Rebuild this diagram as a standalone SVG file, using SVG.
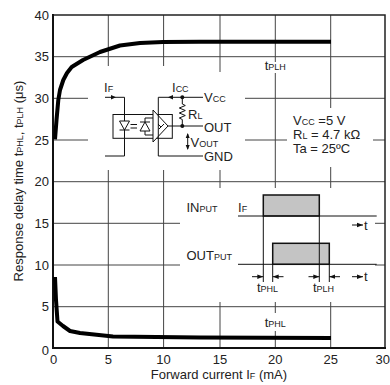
<svg xmlns="http://www.w3.org/2000/svg" width="390" height="385" viewBox="0 0 390 385">
<style>
text{font-family:"Liberation Sans",Arial,sans-serif;fill:#222}
.tk{font-size:13px}
.lb{font-size:13px}
.sm{font-size:9px}
.grid{stroke:#444;stroke-width:1;fill:none}
.ln{stroke:#111;stroke-width:1;fill:none}
.curve{stroke:#000;stroke-width:4;fill:none;stroke-linejoin:round;stroke-linecap:butt}
.box{fill:#c4c4c4;stroke:#111;stroke-width:1.5}
</style>
<defs>
<marker id="ah" viewBox="0 0 6 6" refX="6" refY="3" markerWidth="6" markerHeight="6" orient="auto" markerUnits="userSpaceOnUse"><path d="M0,0.8 L6,3 L0,5.2Z" fill="#111"/></marker>
</defs>
<rect width="390" height="385" fill="#fff"/>
<g id="grid" class="grid">
<path d="M53,56.7H385M53,181.7H385M53,306.7H385"/>
<path d="M53,98.3H88M245,98.3H385"/>
<path d="M53,140H88M245,140H287M373,140H385"/>
<path d="M53,223.3H180M375,223.3H385"/>
<path d="M53,265H180M375,265H385"/>
<path d="M108.3,15V66M108.3,170V348"/>
<path d="M163.6,15V66M163.6,170V348"/>
<path d="M220,15V72M220,170V188M220,302V348"/>
<path d="M275.3,15V62M275.3,73V188M275.3,302V313M275.3,331V348"/>
<path d="M330.7,15V108M330.7,167V188M330.7,302V348"/>
</g>
<g id="axes">
<path d="M53,15H385V348" stroke="#222" stroke-width="1.5" fill="none"/>
<path d="M53,14V348H386" stroke="#111" stroke-width="2" fill="none"/>
</g>
<g id="ticks" class="tk">
<g text-anchor="end">
<text x="49" y="19.5">40</text>
<text x="49" y="61.2">35</text>
<text x="49" y="102.8">30</text>
<text x="49" y="144.5">25</text>
<text x="49" y="186.2">20</text>
<text x="49" y="227.8">15</text>
<text x="49" y="269.5">10</text>
<text x="49" y="311.2">5</text>
<text x="49" y="355">0</text>
</g>
<g text-anchor="middle">
<text x="53.5" y="364">0</text>
<text x="108.3" y="364">5</text>
<text x="163.6" y="364">10</text>
<text x="220" y="364">15</text>
<text x="275.3" y="364">20</text>
<text x="330.7" y="364">25</text>
</g>
<text x="390" y="364" text-anchor="end">30</text>
</g>
<g id="axis-titles" class="lb">
<text x="219" y="379" text-anchor="middle">Forward current I<tspan class="sm">F</tspan> (mA)</text>
<text transform="translate(23,181) rotate(-90)" text-anchor="middle">Response delay time t<tspan class="sm">PHL</tspan>, t<tspan class="sm">PLH</tspan> (μs)</text>
</g>
<g id="curves">
<path id="tPLH-curve" class="curve" d="M55,139.3 L56.5,120 L58.3,100 L60,90 L63.3,80 L67,73 L71.7,67 L83,60 L100,52 L120,45.5 L140,43 L163,42 L200,41.7 L331,41.7"/>
<path id="tPHL-curve" class="curve" d="M55,277 L56,300 L57.5,321.5 L63,326 L70,331 L80,333 L113,336.5 L200,337.5 L331,338"/>
<text class="lb" x="275.3" y="70" text-anchor="middle">t<tspan class="sm">PLH</tspan></text>
<text class="lb" x="275.3" y="327" text-anchor="middle">t<tspan class="sm">PHL</tspan></text>
</g>
<g id="circuit">
<text class="lb" x="104" y="92">I<tspan class="sm">F</tspan></text>
<path class="ln" d="M105,97.3H124.5V156H105" />
<path d="M111,95 L116,97.3 L111,99.6Z" fill="#111"/>
<rect x="113" y="114.5" width="59.3" height="23.8" fill="#fff" stroke="#111" stroke-width="1"/>
<path class="ln" d="M124.5,114.5V138.3"/>
<path d="M119.5,121H129.5L124.5,130Z M119.5,130H129.5" fill="#fff" stroke="#111" stroke-width="1"/>
<path class="ln" d="M130.5,124.5H137M130.5,128H137"/>
<path d="M140,131H150L145,122Z M140,122H150" fill="#fff" stroke="#111" stroke-width="1"/>
<path class="ln" d="M145,122V118H153M145,131V135H153"/>
<path d="M153,110L168,126L153,142Z" fill="#fff" stroke="#111" stroke-width="1"/>
<path class="ln" d="M158,124l3,3 3,-3 M159,129l2,-2"/>
<text class="lb" x="172" y="92">I<tspan class="sm">CC</tspan></text>
<path class="ln" d="M203,97.3H158.3V156H203"/>
<path d="M173,95 L168,97.3 L173,99.6Z" fill="#111"/>
<path class="ln" d="M182.3,97.3V104l3,1.5-6,2.5 6,2.5-6,2.5 6,2.5-6,2.5 3,1.5V126M168,126H203"/>
<circle cx="182.3" cy="97.3" r="2" fill="#111"/>
<circle cx="182.3" cy="126" r="2" fill="#111"/>
<path class="ln" d="M187.7,134V149" />
<path d="M185.7,138L187.7,133L189.7,138Z M185.7,145L187.7,150L189.7,145Z" fill="#111"/>
<text class="lb" x="188" y="118.5">R<tspan class="sm">L</tspan></text>
<text class="lb" x="204" y="102">V<tspan class="sm">CC</tspan></text>
<text class="lb" x="204" y="131.5">OUT</text>
<text class="lb" x="190.5" y="147">V<tspan class="sm">OUT</tspan></text>
<text class="lb" x="204" y="161">GND</text>
</g>
<g id="legend" class="lb">
<text x="293" y="125">V<tspan class="sm">CC</tspan> =5 V</text>
<text x="293" y="138.5">R<tspan class="sm">L</tspan> = 4.7 kΩ</text>
<text x="293" y="152.5">Ta = 25ºC</text>
</g>
<g id="timing">
<text class="lb" x="186.5" y="211.5">IN<tspan class="sm">PUT</tspan></text>
<text class="lb" x="186.5" y="259.5">OUT<tspan class="sm">PUT</tspan></text>
<text class="lb" x="238" y="212">I<tspan class="sm">F</tspan></text>
<rect class="box" x="263.3" y="195" width="56" height="21"/>
<rect class="box" x="272.7" y="243.3" width="56.6" height="21"/>
<path class="ln" d="M238,216H376.7M238,264.3H376.7"/>
<path class="ln" d="M263.3,216V282M272.7,264V282M319.3,216V282M329.3,264V282"/>
<path class="ln" d="M252,276.7H263.3" marker-end="url(#ah)"/>
<path class="ln" d="M283.5,276.7H272.7" marker-end="url(#ah)"/>
<path class="ln" d="M308.5,276.7H319.3" marker-end="url(#ah)"/>
<path class="ln" d="M340,276.7H329.3" marker-end="url(#ah)"/>
<path class="ln" d="M352,225H363" marker-end="url(#ah)"/>
<path class="ln" d="M352,276.7H363" marker-end="url(#ah)"/>
<text class="lb" x="364" y="229.5">t</text>
<text class="lb" x="364" y="281">t</text>
<text class="lb" x="267.5" y="292" text-anchor="middle">t<tspan class="sm">PHL</tspan></text>
<text class="lb" x="323.5" y="292" text-anchor="middle">t<tspan class="sm">PLH</tspan></text>
</g>
</svg>
